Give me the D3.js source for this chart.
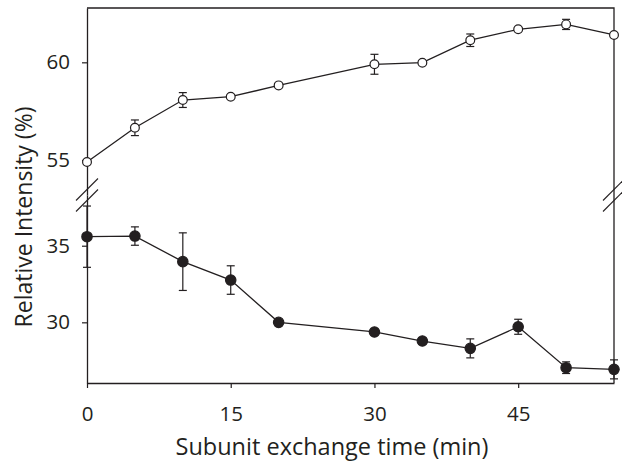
<!DOCTYPE html>
<html>
<head>
<meta charset="utf-8">
<script src="https://cdn.jsdelivr.net/npm/d3@7"></script>
<style>
  body { margin: 0; background: #fff; }
  text { font-family: "Open Sans", sans-serif; fill: #231f20; }
</style>
</head>
<body>
<div id="chart"></div>
<script>
// exchange time (min)
const times = [0, 5, 10, 15, 20, 30, 35, 40, 45, 50, 55]
// open circles (upper series) and their error
const upperVals = [54.9, 56.65, 58.07, 58.24, 58.82, 59.9, 59.98, 61.13, 61.69, 61.94, 61.4]
const upperErr  = [0, 0.4, 0.38, 0, 0, 0.51, 0, 0.32, 0, 0.26, 0]
// filled circles (lower series) and their error
const lowerVals = [35.59, 35.63, 33.96, 32.76, 30.0, 29.37, 28.78, 28.3, 29.71, 27.04, 26.93]
const lowerErr  = [2.0, 0.6, 1.88, 0.93, 0.12, 0, 0.2, 0.62, 0.49, 0.38, 0.62]

const xTicks = [0, 15, 30, 45]
const upperTicks = [55, 60]
const lowerTicks = [30, 35]

const W = 622, H = 470
const LEFT = 87, RIGHT = 614, TOP = 8, BOTTOM = 383, BREAK = 195
const INK = '#231f20'

const svg = d3.select('#chart').append('svg')
    .attr('width', W).attr('height', H)

const x = d3.scaleLinear().domain([0, 55]).range([LEFT, RIGHT])
const yTop = d3.scaleLinear().domain([53.21, 62.78]).range([BREAK, TOP])
const yBot = d3.scaleLinear().domain([26.04, 38.31]).range([BOTTOM, BREAK])

// frame top + right
svg.append('path')
    .attr('d', `M${LEFT},${TOP}H${RIGHT}V${BOTTOM}`)
    .attr('fill', 'none').attr('stroke', INK).attr('stroke-width', 1.3)

// axes
const styleAxis = g => {
  g.select('.domain').attr('stroke', INK).attr('stroke-width', 1.3)
  g.selectAll('.tick line').attr('stroke', INK).attr('stroke-width', 1.2)
  g.selectAll('.tick text').attr('font-size', 20.5).attr('fill', INK)
    .style('font-family', '"Open Sans", sans-serif')
}

svg.append('g').attr('transform', `translate(0,${BOTTOM})`)
    .call(d3.axisBottom(x).tickValues(xTicks).tickSize(5).tickSizeOuter(0).tickPadding(18))
    .call(styleAxis)

svg.append('g').attr('transform', `translate(${LEFT},0)`)
    .call(d3.axisLeft(yTop).tickValues(upperTicks).tickSize(5).tickSizeOuter(0).tickPadding(12))
    .call(styleAxis)

svg.append('g').attr('transform', `translate(${LEFT},0)`)
    .call(d3.axisLeft(yBot).tickValues(lowerTicks).tickSize(5).tickSizeOuter(0).tickPadding(12))
    .call(styleAxis)

// break marks on both vertical axes
const breakG = svg.append('g').attr('stroke', INK).attr('stroke-width', 1.1)
;[LEFT, RIGHT].forEach(cx => {
  ;[-5.5, 5.5].forEach(off => {
    breakG.append('line')
        .attr('x1', cx - 11).attr('y1', BREAK + off + 11)
        .attr('x2', cx + 11).attr('y2', BREAK + off - 11)
  })
})

function drawSeries(vals, errs, y, filled, r) {
  const pts = times.map((t, i) => ({ t, v: vals[i], e: errs[i] }))
  const g = svg.append('g')

  g.append('path').datum(pts)
      .attr('fill', 'none').attr('stroke', INK).attr('stroke-width', 1.3)
      .attr('d', d3.line().x(d => x(d.t)).y(d => y(d.v)))

  const eb = g.selectAll('.eb').data(pts.filter(d => d.e > 0)).enter().append('g')
      .attr('stroke', INK).attr('stroke-width', 1.2)
  eb.append('line')
      .attr('x1', d => x(d.t)).attr('x2', d => x(d.t))
      .attr('y1', d => y(d.v - d.e)).attr('y2', d => y(d.v + d.e))
  eb.append('line')
      .attr('x1', d => x(d.t) - 4).attr('x2', d => x(d.t) + 4)
      .attr('y1', d => y(d.v + d.e)).attr('y2', d => y(d.v + d.e))
  eb.append('line')
      .attr('x1', d => x(d.t) - 4).attr('x2', d => x(d.t) + 4)
      .attr('y1', d => y(d.v - d.e)).attr('y2', d => y(d.v - d.e))

  g.selectAll('circle').data(pts).enter().append('circle')
      .attr('cx', d => x(d.t)).attr('cy', d => y(d.v)).attr('r', r)
      .attr('fill', filled ? INK : '#fff')
      .attr('stroke', INK).attr('stroke-width', 1.2)
}

drawSeries(upperVals, upperErr, yTop, false, 4.4)
drawSeries(lowerVals, lowerErr, yBot, true, 5.2)

// titles
svg.append('text')
    .attr('x', 332).attr('y', 455)
    .attr('text-anchor', 'middle').attr('font-size', 23.5)
    .text('Subunit exchange time (min)')

svg.append('text')
    .attr('transform', 'translate(32,217) rotate(-90)')
    .attr('text-anchor', 'middle').attr('font-size', 23)
    .text('Relative Intensity (%)')
</script>
</body>
</html>
